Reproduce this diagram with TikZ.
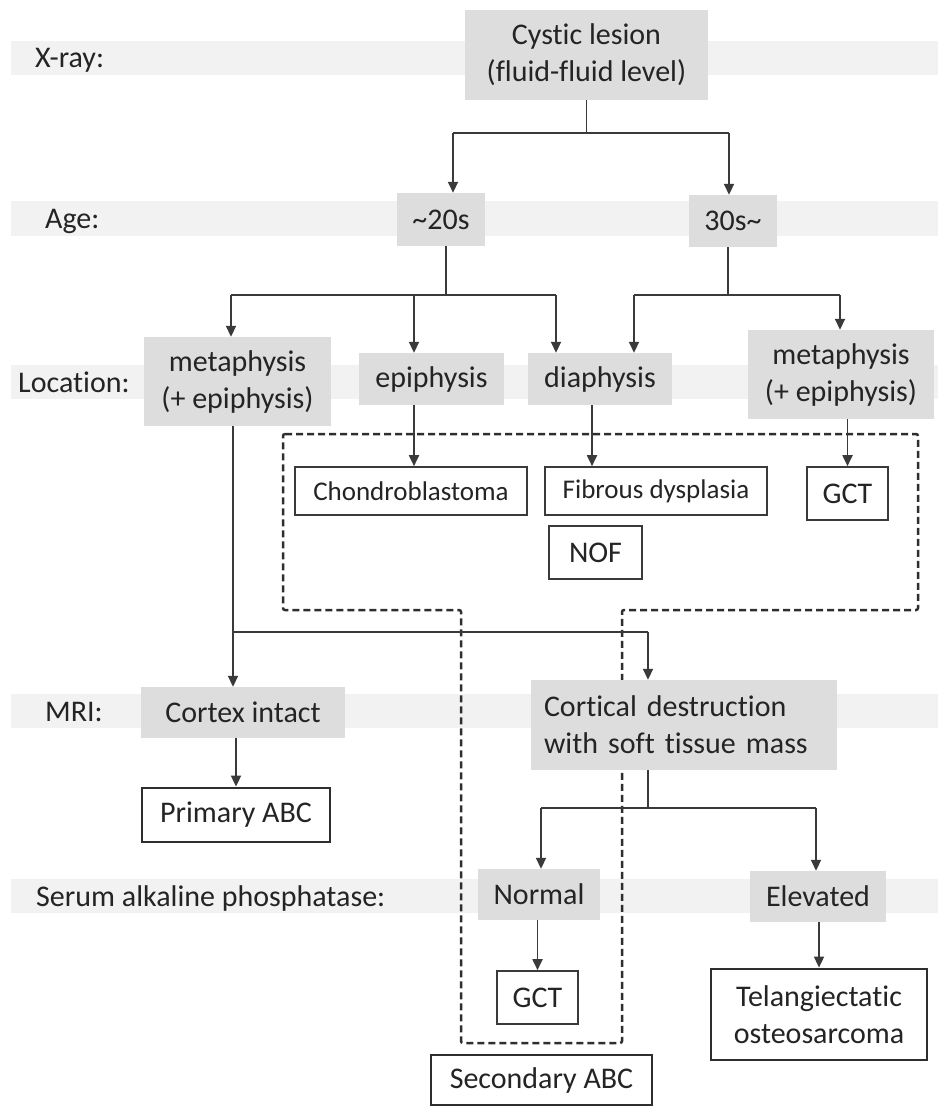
\documentclass[tikz,border=0pt]{standalone}
\usepackage{fontspec}
\setmainfont{Carlito}[Ligatures=NoCommon]
\usetikzlibrary{arrows.meta}
\definecolor{bandc}{HTML}{F2F2F2}
\definecolor{boxg}{HTML}{DDDDDD}
\definecolor{lnc}{HTML}{3A3A3A}
\definecolor{txc}{HTML}{242424}
\begin{document}
\begin{tikzpicture}[x=1pt,y=-1pt,
  every node/.style={font=\fontsize{30}{37}\selectfont, text=txc, inner sep=0pt, align=center},
  gbox/.style={fill=boxg},
  wthin/.style={draw=lnc, line width=1.6pt, fill=white},
  wthick/.style={draw=lnc!80!black, line width=2.8pt, fill=white},
  small/.style={font=\fontsize{27}{33}\selectfont},
  lab/.style={anchor=base west},
  conn/.style={draw=lnc, line width=1.8pt},
  arr/.style={conn, -{Triangle[length=11pt,width=10pt]}},
  dbox/.style={draw=lnc!80!black, line width=2.5pt, dash pattern=on 7pt off 4pt, rounded corners=2pt}]
\useasboundingbox (0,0) rectangle (938,1107);
% bands
\fill[bandc] (11,41) rectangle (938,75);
\fill[bandc] (11,201) rectangle (938,236);
\fill[bandc] (11,365) rectangle (938,399);
\fill[bandc] (11,694) rectangle (938,728);
\fill[bandc] (11,879) rectangle (938,913);
% row labels
\node[lab] (lxray) at (35,68) {X-ray:};
\node[lab] (lage) at (45,228.5) {Age:};
\node[lab] (lloc) at (18,392) {Location:};
\node[lab] (lmri) at (45,721) {MRI:};
\node[lab] (lsap) at (36,906) {Serum alkaline phosphatase:};
% dashed region
\draw[dbox] (283,434) -- (918,434) -- (918,610) -- (622,610) -- (622,1043) -- (461,1043) -- (461,610) -- (283,610) -- cycle;
% gray boxes
\node[gbox, minimum width=243pt, minimum height=90pt] (cyst) at (586.5,55) {Cystic lesion\\(fluid-fluid level)};
\node[gbox, minimum width=88pt, minimum height=53pt] (age20) at (441,219.5) {\textasciitilde20s};
\node[gbox, minimum width=88pt, minimum height=52pt] (age30) at (733,221) {30s\textasciitilde};
\node[gbox, minimum width=187pt, minimum height=89pt] (meta1) at (237.5,381.5) {metaphysis\\(+ epiphysis)};
\node[gbox, minimum width=145pt, minimum height=52pt] (epi) at (431.5,379) {epiphysis};
\node[gbox, minimum width=144pt, minimum height=52pt] (dia) at (600,379) {diaphysis};
\node[gbox, minimum width=186pt, minimum height=89pt] (meta2) at (841,374.5) {metaphysis\\(+ epiphysis)};
\node[gbox, minimum width=204pt, minimum height=51pt] (cortex) at (243,712.5) {Cortex intact};
\node[gbox, minimum width=306pt, minimum height=90pt, text width=280pt, align=left] (cortical) at (684,725) {Cortical destruction\\with soft tissue mass};
\node[gbox, minimum width=122pt, minimum height=51pt] (normal) at (539,894.5) {Normal};
\node[gbox, minimum width=136pt, minimum height=51pt] (elevated) at (818,896.5) {Elevated};
% white boxes
\node[wthin, small, minimum width=232pt, minimum height=48pt] (chondro) at (411,491) {Chondroblastoma};
\node[wthin, small, minimum width=222pt, minimum height=48pt] (fibrous) at (656,491) {Fibrous dysplasia};
\node[wthin, minimum width=81pt, minimum height=53pt] (gct1) at (847.5,493.5) {GCT};
\node[wthin, minimum width=93pt, minimum height=53pt] (nof) at (595.5,552.5) {NOF};
\node[wthick, minimum width=188pt, minimum height=54pt] (primary) at (236,815) {Primary ABC};
\node[wthin, minimum width=81pt, minimum height=53pt] (gct2) at (537.5,997.5) {GCT};
\node[wthick, minimum width=216pt, minimum height=91pt] (telang) at (819,1014.5) {Telangiectatic\\osteosarcoma};
\node[wthick, minimum width=221pt, minimum height=50pt] (secondary) at (541.5,1080) {Secondary ABC};
% connectors level 1
\coordinate (b1L) at (453,133);
\coordinate (b1R) at (729,133);
\draw[conn] (cyst.south) -- (cyst.south |- b1L);
\draw[conn] (b1L) -- (b1R);
\draw[arr] (b1L) -- (b1L |- age20.north);
\draw[arr] (b1R) -- (b1R |- age30.north);
% level 2
\coordinate (b2c) at (446,295);
\coordinate (b2L) at (231,295);
\coordinate (b2M) at (414,295);
\coordinate (b2R) at (556,295);
\draw[conn] (b2c |- age20.south) -- (b2c);
\draw[conn] (b2L) -- (b2R);
\draw[arr] (b2L) -- (b2L |- meta1.north);
\draw[arr] (b2M) -- (b2M |- epi.north);
\draw[arr] (b2R) -- (b2R |- dia.north);
\coordinate (b3c) at (728,295);
\coordinate (b3L) at (634,295);
\coordinate (b3R) at (840,295);
\draw[conn] (b3c |- age30.south) -- (b3c);
\draw[conn] (b3L) -- (b3R);
\draw[arr] (b3L) -- (b3L |- dia.north);
\draw[arr] (b3R) -- (b3R |- meta2.north);
% level 3
\coordinate (a1) at (414,0);
\coordinate (a2) at (592,0);
\draw[arr] (a1 |- epi.south) -- (a1 |- chondro.north);
\draw[arr] (a2 |- dia.south) -- (a2 |- fibrous.north);
\draw[arr] (gct1.north |- meta2.south) -- (gct1.north);
% MRI level
\coordinate (b4L) at (233,632);
\coordinate (b4R) at (648,632);
\draw[arr] (b4L |- meta1.south) -- (b4L |- cortex.north);
\draw[conn] (b4L) -- (b4R);
\draw[arr] (b4R) -- (b4R |- cortical.north);
\draw[arr] (primary.north |- cortex.south) -- (primary.north);
% serum level
\coordinate (b5c) at (648,808);
\coordinate (b5L) at (541,808);
\coordinate (b5R) at (816,808);
\draw[conn] (b5c |- cortical.south) -- (b5c);
\draw[conn] (b5L) -- (b5R);
\draw[arr] (b5L) -- (b5L |- normal.north);
\draw[arr] (b5R) -- (b5R |- elevated.north);
\draw[arr] (gct2.north |- normal.south) -- (gct2.north);
\draw[arr] (telang.north |- elevated.south) -- (telang.north);
\end{tikzpicture}
\end{document}
